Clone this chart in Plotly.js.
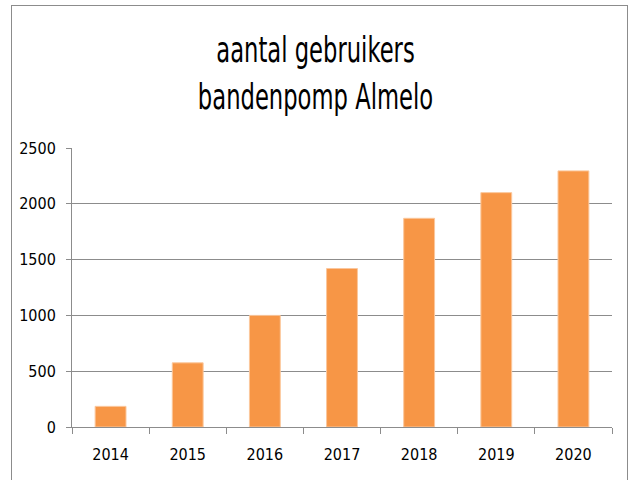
<!DOCTYPE html>
<html>
<head>
<meta charset="utf-8">
<script src="https://cdn.plot.ly/plotly-3.0.1.min.js"></script>
<style>
html,body{margin:0;padding:0;background:#fff;}
#wrap{position:relative;width:631px;height:480px;overflow:hidden;}
#chart{width:631px;height:480px;}
#chart text{font-stretch:condensed;}
#chart text.gtitle{transform-box:fill-box;transform-origin:center;transform:scaleX(0.7);}
#frame{position:absolute;left:11px;top:5px;width:615px;height:520px;border:1px solid #8c8c8c;pointer-events:none;}
</style>
</head>
<body>
<div id="wrap"><div id="chart"></div><div id="frame"></div></div>
<script>
const years = ['2014','2015','2016','2017','2018','2019','2020'];
const users = [185, 575, 1000, 1420, 1870, 2100, 2295];
const yTicks = [0, 500, 1000, 1500, 2000, 2500];

const font = '"DejaVu Sans Condensed", "DejaVu Sans", sans-serif';

Plotly.newPlot('chart', [{
  type: 'bar',
  x: years,
  y: users,
  marker: {color: '#F79646', line: {color: '#FBC79C', width: 1}},
  hoverinfo: 'none'
}], {
  width: 631, height: 480,
  margin: {l: 72, r: 19, t: 148, b: 53},
  paper_bgcolor: '#fff', plot_bgcolor: '#fff',
  bargap: 0.6,
  showlegend: false,
  title: {
    text: 'aantal gebruikers<br>bandenpomp Almelo',
    font: {family: font, size: 36, color: '#000'},
    x: 0.5, xanchor: 'center', y: 0.87, yanchor: 'top'
  },
  xaxis: {
    type: 'category',
    tickson: 'boundaries',
    ticks: 'outside', ticklen: 6, tickcolor: '#8c8c8c',
    ticklabelstandoff: 13,
    showline: true, linecolor: '#8c8c8c', linewidth: 1,
    showgrid: false,
    tickfont: {family: font, size: 16, color: '#000'}
  },
  yaxis: {
    range: [0, 2500],
    tickvals: yTicks,
    ticks: 'outside', ticklen: 5, tickcolor: '#8c8c8c',
    ticklabelstandoff: 7,
    showline: true, linecolor: '#8c8c8c', linewidth: 1,
    showgrid: true, gridcolor: '#8c8c8c', gridwidth: 1,
    zeroline: false,
    tickfont: {family: font, size: 16, color: '#000'}
  }
}, {staticPlot: true, displayModeBar: false});
</script>
</body>
</html>
